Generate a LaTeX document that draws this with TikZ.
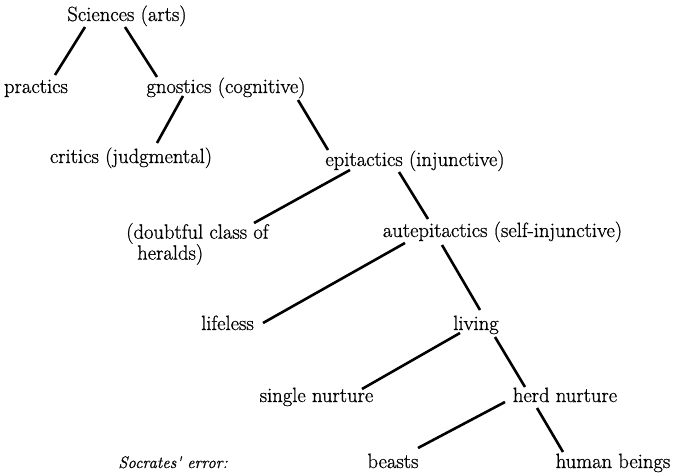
\documentclass[tikz,border=0pt]{standalone}
\usepackage{fontspec}
\newfontfamily\termfont{Latin Modern Roman}[FakeBold=0.8]
\usepackage{tikz}
\begin{document}
\begin{tikzpicture}[x=1pt, y=-1pt,
    term/.style={inner sep=0pt, anchor=base, font=\termfont\fontsize{20.6}{21}\selectfont},
    branch/.style={line width=2.6pt}]
  \useasboundingbox (0,0) rectangle (681,476);
  % terms of the division
  \node[term] (sci)   at (127,21)    {Sciences (arts)};
  \node[term] (prac)  at (36,93)     {practics};
  \node[term] (gnos)  at (226,93)    {gnostics (cognitive)};
  \node[term] (crit)  at (131,163)   {critics (judgmental)};
  \node[term] (epit)  at (415,166)   {epitactics (injunctive)};
  \node[term, anchor=north west, align=left] (doubt) at (126,223)
    {(doubtful class of\\\hspace*{11pt}heralds)};
  \node[term] (autep) at (502.5,237) {autepitactics (self-injunctive)};
  \node[term] (dead)  at (227.5,330) {lifeless};
  \node[term] (live)  at (476,330)   {living};
  \node[term] (single) at (316.5,402) {single nurture};
  \node[term] (herd)  at (565,402)   {herd nurture};
  \node[term, font=\termfont\fontsize{16.6}{19}\selectfont\itshape] (socr) at (173,468) {Socrates' error:};
  \node[term] (beast) at (393,468)   {beasts};
  \node[term] (human) at (613,468)   {human beings};
  % branches
  \draw[branch] ([shift={(-42,6)}]sci.base)    -- ([shift={(19,-18)}]prac.base);
  \draw[branch] ([shift={(-2,6)}]sci.base)     -- ([shift={(-69,-16)}]gnos.base);
  \draw[branch] ([shift={(-43,3)}]gnos.base)   -- ([shift={(26,-20)}]crit.base);
  \draw[branch] ([shift={(72,7)}]gnos.base)    -- ([shift={(-87,-16)}]epit.base);
  \draw[branch] ([shift={(-65,4)}]epit.base)   -- ([shift={(128,0)}]doubt.north west);
  \draw[branch] ([shift={(-16,6)}]epit.base)   -- ([shift={(-74.5,-18)}]autep.base);
  \draw[branch] ([shift={(-97.5,6)}]autep.base) -- ([shift={(35.5,-7)}]dead.base);
  \draw[branch] ([shift={(-60.5,8)}]autep.base) -- ([shift={(4,-20)}]live.base);
  \draw[branch] ([shift={(-16,3)}]live.base)   -- ([shift={(45.5,-13)}]single.base);
  \draw[branch] ([shift={(19,7)}]live.base)    -- ([shift={(-40,-15)}]herd.base);
  \draw[branch] ([shift={(-60,0)}]herd.base)   -- ([shift={(25,-20)}]beast.base);
  \draw[branch] ([shift={(-28,6)}]herd.base)   -- ([shift={(-50,-16)}]human.base);
\end{tikzpicture}
\end{document}
